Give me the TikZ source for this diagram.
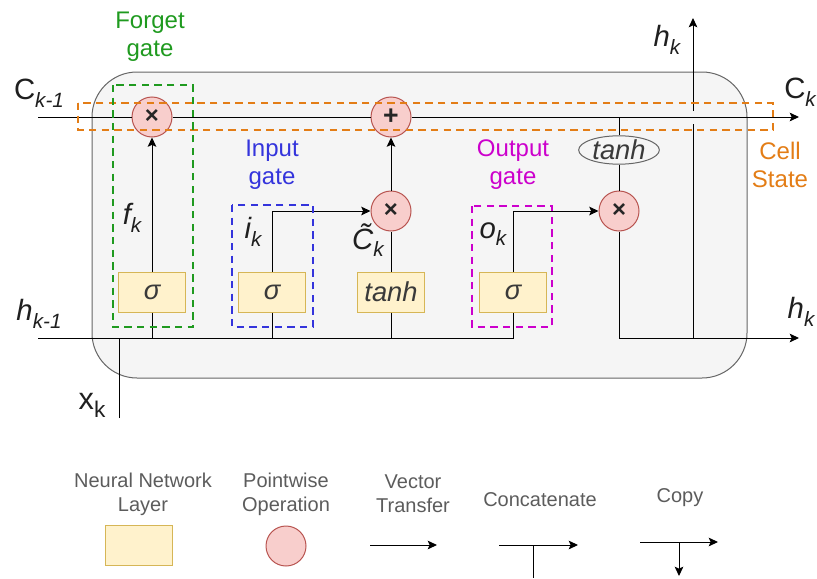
\documentclass[tikz,border=0pt]{standalone}
\usepackage{fontspec}
\setmainfont{Liberation Sans}
\usetikzlibrary{arrows.meta,shapes.geometric}

\definecolor{cellfill}{HTML}{F5F5F5}
\definecolor{cellline}{HTML}{666666}
\definecolor{opfill}{HTML}{F8CECC}
\definecolor{opline}{HTML}{B85450}
\definecolor{nnfill}{HTML}{FFF2CC}
\definecolor{nnline}{HTML}{D6B656}
\definecolor{forgetc}{HTML}{1F9A1F}
\definecolor{inputc}{HTML}{3434DC}
\definecolor{outputc}{HTML}{CC00CC}
\definecolor{cellc}{HTML}{E37D16}
\definecolor{legtext}{HTML}{5C5C5C}
\definecolor{symtext}{HTML}{3A3A3A}

\newcommand\mainsz{\fontsize{22}{24}\selectfont}
\newcommand\sublbl[1]{\raisebox{-0.5ex}{\fontsize{15.5}{16}\selectfont\itshape #1}}

\tikzset{
  link/.style={draw=black, line width=0.75pt},
  flow/.style={link, -{Stealth[length=7pt,width=6.5pt,inset=1.5pt]}},
  op/.style={circle, draw=opline, fill=opfill, line width=0.75pt,
    minimum size=30pt, inner sep=0pt, text=black!85,
    font=\fontsize{18}{18}\selectfont\bfseries},
  nn/.style={rectangle, draw=nnline, fill=nnfill, line width=0.75pt,
    minimum width=50.5pt, minimum height=30pt, inner sep=0pt,
    text=symtext, font=\fontsize{20.5}{21}\selectfont\itshape},
  ell/.style={ellipse, draw=cellline, fill=cellfill, line width=0.75pt,
    minimum width=60.5pt, minimum height=20.5pt, inner sep=0pt,
    text=symtext, font=\fontsize{20.5}{21}\selectfont\itshape},
  gatebox/.style={line width=1.5pt, dash pattern=on 5.5pt off 4pt},
  gatetext/.style={align=center, font=\fontsize{18}{21}\selectfont},
  lbl/.style={inner sep=0pt, text=black!88, font=\mainsz},
  legend/.style={align=center, text=legtext, font=\fontsize{15}{18}\selectfont}
}

\begin{document}
\begin{tikzpicture}[x=0.75pt, y=-0.75pt]
\useasboundingbox (0,0) rectangle (817,578);

% cell body
\draw[cellline, fill=cellfill, line width=0.75pt, rounded corners=33.75pt]
  (92,72) rectangle (747,378);

% pointwise operations
\node[op] (fx) at (152,117) {×};
\node[op, font=\fontsize{20}{20}\selectfont\bfseries] (add) at (391,117) {+};
\node[op] (ix) at (391,211) {×};
\node[op] (ox) at (619,211) {×};

% neural network layers
\node[nn] (fs) at (152,292) {σ};
\node[nn] (is) at (272,292) {σ};
\node[nn] (ct) at (391,292) {tanh};
\node[nn] (os) at (513,292) {σ};
\node[ell] (th) at (619,150) {tanh};

% free ends and junctions
\coordinate (cin) at (38,117);
\coordinate (cout) at (799,117);
\coordinate (hin) at (38,338);
\coordinate (hjoin) at (513,338);
\coordinate (hout) at (799,338);
\coordinate (xin) at (119,418);
\coordinate (xjoin) at (119,338);
\coordinate (ctap) at (619,117);
\coordinate (hsplit) at (693,338);
\coordinate (gaplow) at (693,124);
\coordinate (gaphigh) at (693,111);
\coordinate (hup) at (693,18);

% cell state
\draw[link] (cin) -- (fx);
\draw[link] (fx) -- (add);
\draw[flow] (add) -- (cout);

% hidden state and input
\draw[link] (hin) -- (hjoin) -- (os.south);
\draw[link] (xin) -- (xjoin);

% forget gate
\draw[link] (fs.south) -- (fs.south |- hin);
\draw[flow] (fs) -- (fx);

% input gate and candidate
\draw[link] (is.south) -- (is.south |- hin);
\draw[flow] (is.north) |- (ix);
\draw[link] (ct.south) -- (ct.south |- hin);
\draw[link] (ct) -- (ix);
\draw[flow] (ix) -- (add);

% output gate
\draw[flow] (os.north) |- (ox);
\draw[link] (ctap) -- (th);
\draw[link] (th) -- (ox);
\draw[flow] (ox) |- (hout);
\draw[link] (hsplit) -- (gaplow);
\draw[flow] (gaphigh) -- (hup);

% gate outlines
\draw[gatebox, cellc] (78,103) rectangle (773,130);
\draw[gatebox, forgetc] (113,85) rectangle (193,327);
\draw[gatebox, inputc] (232,205) rectangle (313,327);
\draw[gatebox, outputc] (472,206) rectangle (552,327);

% gate captions
\node[gatetext, text=forgetc] (tforget) at (150,37) {Forget\\gate};
\node[gatetext, text=inputc] (tinput) at (272,165) {Input\\gate};
\node[gatetext, text=outputc] (toutput) at (513,165) {Output\\gate};
\node[gatetext, text=cellc] (tcell) at (780,165) {Cell\\State};

% signal labels
\node[lbl] (lcin) at (39,93) {C\sublbl{k-1}};
\node[lbl] (lcout) at (800,92) {C\sublbl{k}};
\node[lbl] (lhin) at (39,314) {\itshape h\sublbl{k-1}};
\node[lbl] (lhout) at (801,312) {\itshape h\sublbl{k}};
\node[lbl] (lhup) at (667,40) {\itshape h\sublbl{k}};
\node[lbl, font=\fontsize{23}{26}\selectfont] (lx) at (92,405)
  {x\raisebox{-0.5ex}{\fontsize{17}{18}\selectfont k}};
\node[lbl] (lf) at (132,218) {\itshape f\sublbl{k}};
\node[lbl] (li) at (253,232) {\itshape i\sublbl{k}};
\node[lbl] (lc) at (368,240) {\itshape \~{C}\sublbl{k}};
\node[lbl] (lo) at (493,234) {\itshape o\sublbl{k}};

% legend
\node[legend] (lgnn) at (143,494) {Neural Network\\Layer};
\node[legend] (lgop) at (286,494) {Pointwise\\Operation};
\node[legend] (lgvt) at (413,494) {Vector\\Transfer};
\node[legend] (lgcat) at (540,500) {Concatenate};
\node[legend] (lgcp) at (680,498) {Copy};

\node[nn, minimum width=50.5pt, minimum height=30.5pt] (keynn) at (139,545.5) {};
\node[op] (keyop) at (286,546) {};

\coordinate (vta) at (370,545);
\coordinate (vtb) at (437,545);
\draw[flow] (vta) -- (vtb);

\coordinate (cata) at (499,545);
\coordinate (catb) at (578,545);
\coordinate (catm) at (533,545);
\coordinate (catd) at (533,578);
\draw[flow] (cata) -- (catb);
\draw[link] (catm) -- (catd);

\coordinate (cpa) at (640,542);
\coordinate (cpb) at (718,542);
\coordinate (cpm) at (679,542);
\coordinate (cpd) at (679,576);
\draw[flow] (cpa) -- (cpb);
\draw[flow] (cpm) -- (cpd);
\end{tikzpicture}
\end{document}
